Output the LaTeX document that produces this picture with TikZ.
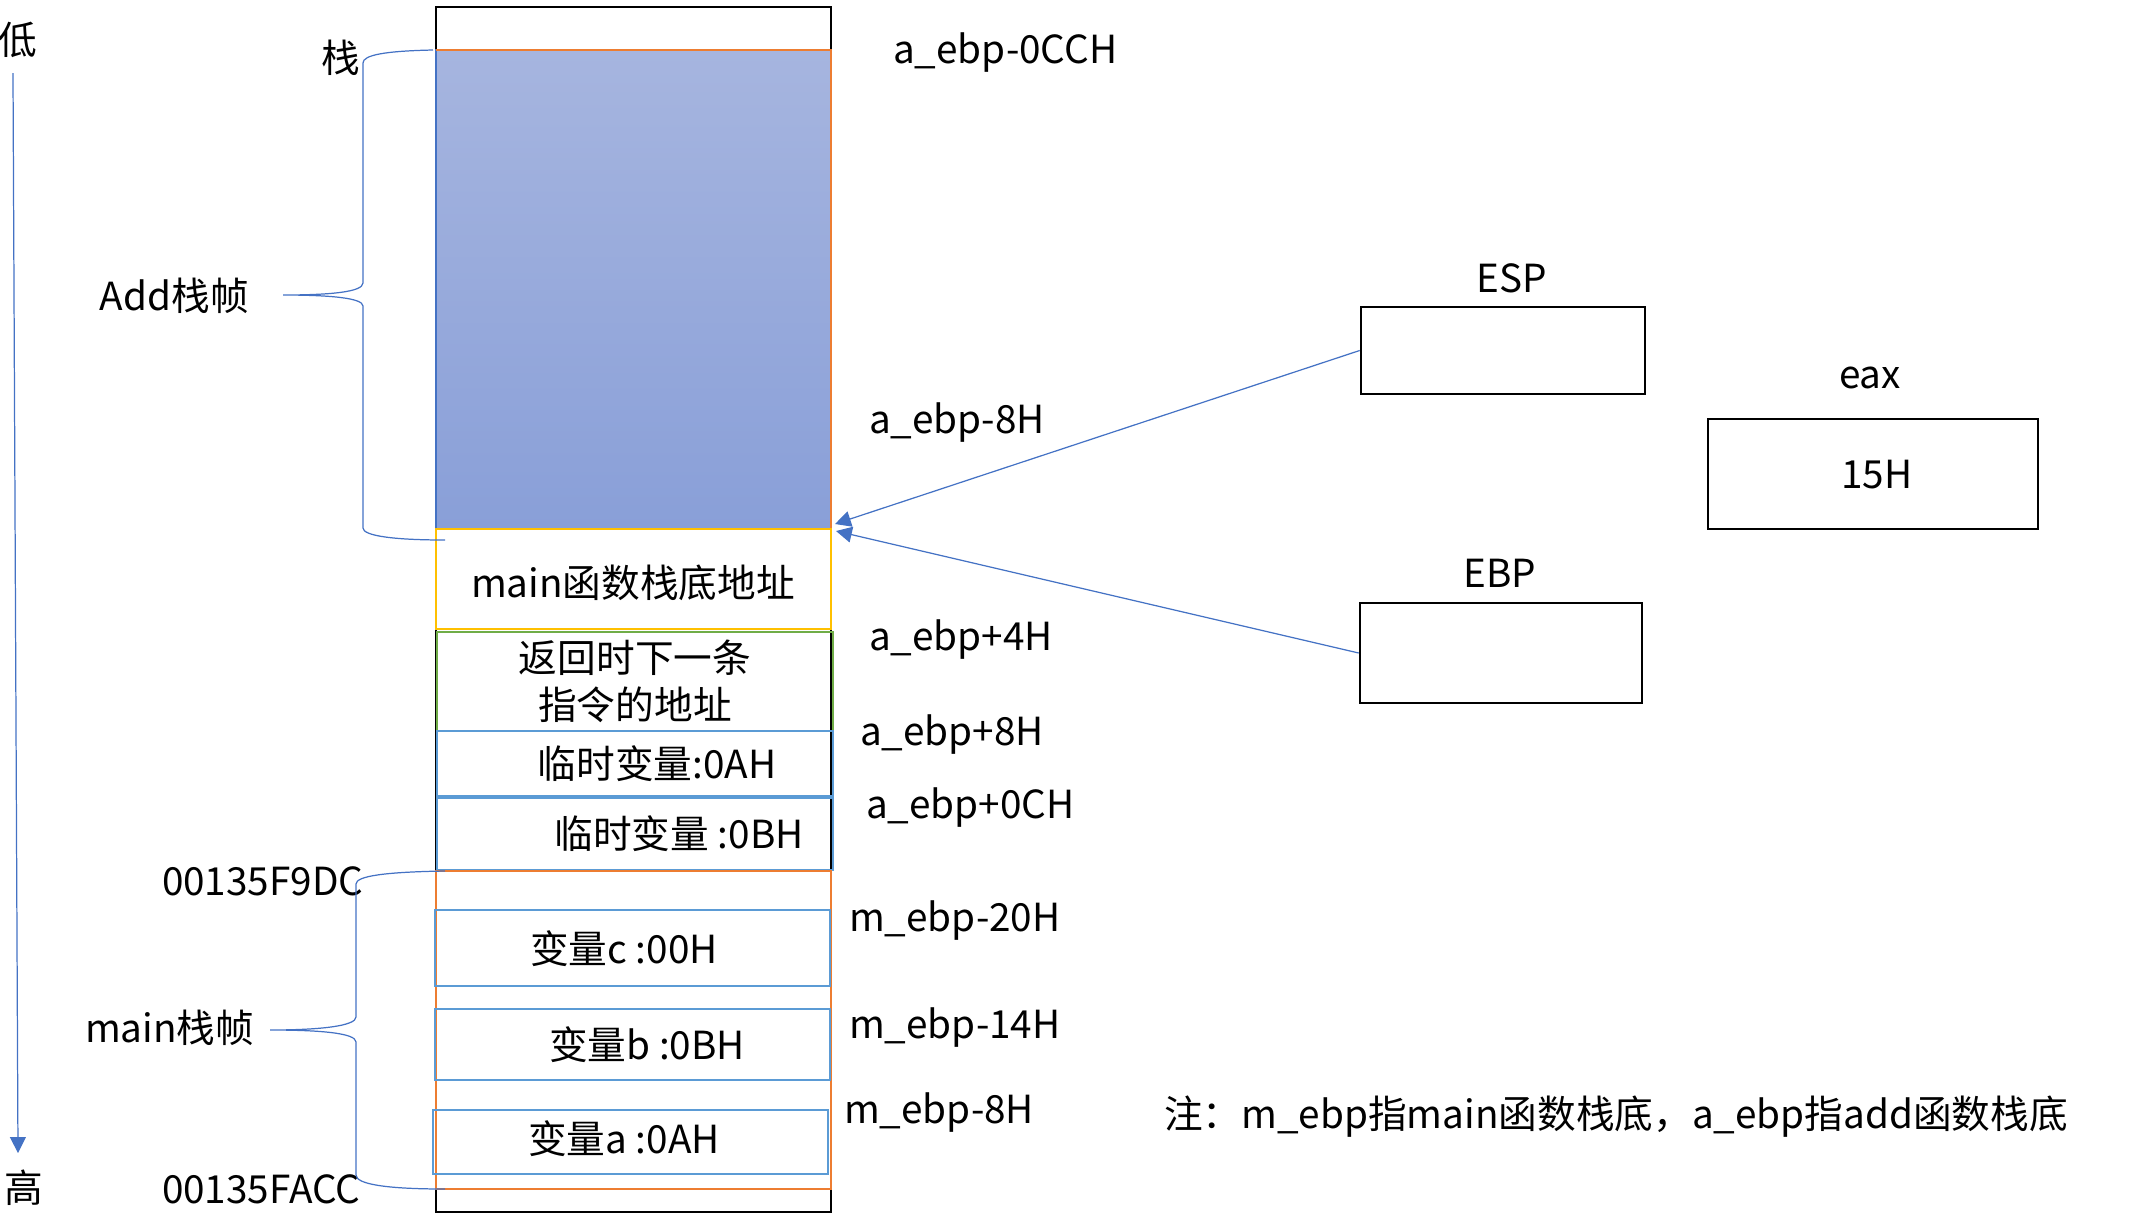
\documentclass[tikz,border=0pt]{standalone}
\usepackage{fontspec}
\setmainfont{Noto Sans CJK SC}
\usetikzlibrary{arrows.meta}
\definecolor{cOrange}{HTML}{ED7D31}
\definecolor{cYellow}{HTML}{FFC000}
\definecolor{cGreen}{HTML}{70AD47}
\definecolor{cBoxBlue}{HTML}{5B9BD5}
\definecolor{cLineBlue}{HTML}{4472C4}
\definecolor{cShadeTop}{HTML}{A6B5DF}
\definecolor{cShadeBot}{HTML}{899FD8}
\begin{document}
\begin{tikzpicture}[x=0.01cm,y=-0.01cm,
  txt/.style={font=\fontsize{11pt}{13pt}\selectfont, inner sep=0pt, outer sep=0pt},
  lbl/.style={txt, anchor=base west},
  ctr/.style={txt, anchor=base},
  regbox/.style={draw=black, line width=0.7pt, inner sep=0pt},
  cellline/.style={line width=0.6pt},
  brace/.style={draw=cLineBlue, line width=0.35pt},
  pointer/.style={draw=cLineBlue, line width=0.35pt, -{Triangle[length=4.5pt,width=4.5pt]}}]
\useasboundingbox (0,0) rectangle (2132,1214);
% stack column
\draw[black, line width=0.7pt] (436,7) rectangle (831,1212);
\shade[top color=cShadeTop, bottom color=cShadeBot] (436,50) rectangle (831,529);
\draw[cLineBlue, cellline] (436,50) rectangle (831,529);
\draw[cOrange, cellline] (436,50) -- (831,50) -- (831,529);
\draw[cYellow, cellline] (436,529) rectangle (831,629);
\draw[cGreen, cellline] (437,632) rectangle (833,731);
\draw[cBoxBlue, cellline] (437,731) rectangle (833,796);
\draw[cBoxBlue, cellline] (437,798) rectangle (833,870);
\draw[cOrange, cellline] (436,871) rectangle (831,1189);
\draw[cBoxBlue, cellline] (435,910) rectangle (830,986);
\draw[cBoxBlue, cellline] (435,1009) rectangle (830,1080);
\draw[cBoxBlue, cellline] (433,1110) rectangle (828,1174);
% cell texts
\node[ctr] (mainbase) at (633,597) {main函数栈底地址};
\node[ctr] (ret1) at (635,672) {返回时下一条};
\node[ctr] (ret2) at (635,719) {指令的地址};
\node[ctr] (tmpa) at (657,778) {临时变量:0AH};
\node[ctr] (tmpb) at (679,848) {临时变量 :0BH};
\node[ctr] (varc) at (624,963) {变量c :00H};
\node[ctr] (varb) at (647,1059) {变量b :0BH};
\node[ctr] (vara) at (624,1153) {变量a :0AH};
% offset labels
\node[lbl] (o1) at (893,63) {a\_ebp-0CCH};
\node[lbl] (o2) at (869,433) {a\_ebp-8H};
\node[lbl] (o3) at (869,650) {a\_ebp+4H};
\node[lbl] (o4) at (860,745) {a\_ebp+8H};
\node[lbl] (o5) at (866,818) {a\_ebp+0CH};
\node[lbl] (o6) at (849,931) {m\_ebp-20H};
\node[lbl] (o7) at (849,1038) {m\_ebp-14H};
\node[lbl] (o8) at (844,1123) {m\_ebp-8H};
\node[lbl] (note) at (1164,1128) {注：m\_ebp指main函数栈底，a\_ebp指add函数栈底};
% registers
\node[ctr] (esplbl) at (1512,292) {ESP};
\node[regbox, minimum width=2.84cm, minimum height=0.87cm] (esp) at (1503,350.5) {};
\node[ctr] (ebplbl) at (1500,587) {EBP};
\node[regbox, minimum width=2.82cm, minimum height=1.00cm] (ebp) at (1501,653) {};
\node[ctr] (eaxlbl) at (1870,388) {eax};
\node[regbox, minimum width=3.30cm, minimum height=1.10cm] (eax) at (1873,474) {};
\node[ctr] (eaxval) at (1877,488) {15H};
% pointers
\coordinate (tipesp) at (835,524);
\coordinate (tipebp) at (836,531);
\draw[pointer] (esp.west) -- (tipesp);
\draw[pointer] (ebp.west) -- (tipebp);
% left labels
\node[txt] (low) at (18,40) {低};
\node[txt] (high) at (24,1188) {高};
\node[txt] (zhan) at (341,58) {栈};
\node[lbl] (addframe) at (100,310) {Add栈帧};
\node[lbl] (mainframe) at (85,1042) {main栈帧};
\node[lbl] (addr1) at (162,895) {00135F9DC};
\node[lbl] (addr2) at (162,1203) {00135FACC};
% direction arrow
\coordinate (dirtop) at (13,73);
\coordinate (dirbot) at (18,1153);
\draw[pointer] (dirtop) -- (dirbot);
% Add brace
\coordinate (ab1) at (433,50);
\coordinate (abtip) at (283,295);
\coordinate (ab2) at (445,540);
\draw[brace] (ab1) .. controls (385,51) and (363,55) .. (363,63) -- (363,283)
  .. controls (363,292) and (330,295) .. (abtip)
  .. controls (330,295) and (363,298) .. (363,306) -- (363,528)
  .. controls (363,536) and (395,540) .. (ab2);
% main brace
\coordinate (mb1) at (445,871);
\coordinate (mbtip) at (270,1030);
\coordinate (mb2) at (445,1189);
\draw[brace] (mb1) .. controls (385,872) and (356,876) .. (356,884) -- (356,1017)
  .. controls (356,1026) and (320,1030) .. (mbtip)
  .. controls (320,1030) and (356,1033) .. (356,1042) -- (356,1175)
  .. controls (356,1184) and (385,1189) .. (mb2);
\end{tikzpicture}
\end{document}
